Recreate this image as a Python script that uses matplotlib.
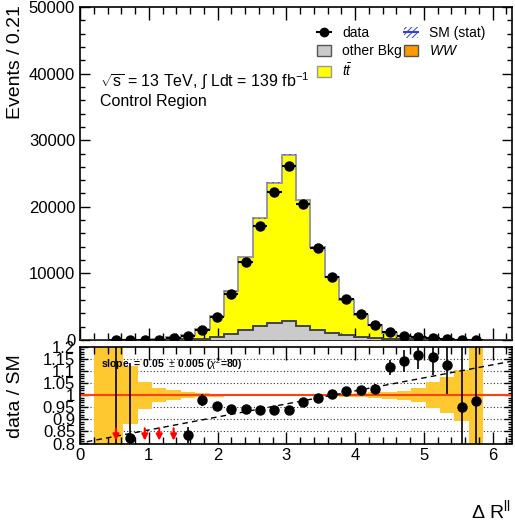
import numpy as np
import matplotlib
matplotlib.use("Agg")
import matplotlib.pyplot as plt
from matplotlib.ticker import MultipleLocator, FixedLocator, FixedFormatter
from matplotlib.patches import Patch
from matplotlib.lines import Line2D

plt.rcParams['font.family'] = ['Liberation Sans', 'DejaVu Sans']
plt.rcParams['mathtext.fontset'] = 'custom'
plt.rcParams['mathtext.rm'] = 'Liberation Sans'
plt.rcParams['mathtext.it'] = 'Liberation Sans:italic'
plt.rcParams['mathtext.bf'] = 'Liberation Sans:bold'
plt.rcParams['hatch.linewidth'] = 0.7

# ---------------- data ----------------
n_bins = 30
x_min, x_max = 0.0, 2 * np.pi

data_counts = [0, 0, 1, 7, 25, 60, 250, 660, 1570, 3470, 6890, 11720, 17100, 22170,
               26090, 20420, 13880, 9460, 6140, 3830, 2260, 1200, 650, 450, 250, 90,
               12, 8, 0, 0]
other_bkg = [0, 0.3, 0.5, 3, 10, 20, 50, 100, 200, 450, 960, 1560, 2120, 2620, 2920,
             2120, 1460, 1110, 710, 450, 350, 200, 130, 80, 50, 20, 4, 3, 0, 0]
ww_bkg = [0, 0, 0, 0, 1, 2, 5, 10, 20, 35, 60, 80, 100, 110, 110, 90, 70, 50, 35, 25,
          15, 10, 6, 4, 2, 1, 0.5, 0.3, 0, 0]
ttbar = [0, 0.5, 0.9, 5.5, 34, 88, 345, 681, 1379, 3141, 6279, 10815, 16030, 20905,
         24785, 18820, 12504, 8234, 5292, 3280, 1836, 866, 433, 302, 164, 59, 8.1, 4.9,
         0, 0]
mc_stat_rel = [0, 0.6, 0.4, 0.12, 0.055, 0.028, 0.02, 0.012, 0.008, 0.006, 0.005,
               0.004, 0.004, 0.003, 0.003, 0.003, 0.004, 0.005, 0.006, 0.008, 0.012,
               0.015, 0.019, 0.03, 0.054, 0.075, 0.105, 0.3, 0, 0]

fit_intercept = 0.802
fit_slope = 0.054
fit_text = r"slope  = 0.05  $\pm$ 0.005 ($\chi^{2}$=80)"

top_yticks = [0, 10000, 20000, 30000, 40000, 50000]
ratio_ticks = [0.8, 0.85, 0.9, 0.95, 1.0, 1.05, 1.1, 1.15, 1.2]
ratio_ticklabels = ["0.8", "0.85", "0.9", "0.95", "1", "1.05", "1.1", "1.15", "1.2"]
ratio_grid = [0.85, 0.9, 0.95, 1.05, 1.1, 1.15]
x_ticks = [0, 1, 2, 3, 4, 5, 6]

# ---------------- derived ----------------
edges = np.linspace(x_min, x_max, n_bins + 1)
centers = 0.5 * (edges[:-1] + edges[1:])
half_w = 0.5 * (edges[1] - edges[0])
d = np.array(data_counts, float)
oth = np.array(other_bkg, float)
ww = np.array(ww_bkg, float)
tt = np.array(ttbar, float)
tot = oth + ww + tt
rel = np.array(mc_stat_rel, float)

# colours
c_tt = '#ffff00'
c_oth = '#cacaca'
c_ww = '#ff9900'
c_band = '#fdc830'
c_red = '#ff4010'
c_hatch = '#3344cc'

fig = plt.figure(figsize=(5.15, 5.27), dpi=100)
W, H = 515.0, 527.0
ax = fig.add_axes([80 / W, 1 - 340 / H, 432 / W, 333 / H])
rax = fig.add_axes([80 / W, 1 - 443.5 / H, 432 / W, 96.5 / H])

# ---------------- top panel ----------------
ax.stairs(tot, edges, baseline=oth + ww, fill=True, color=c_tt, zorder=1)
ax.stairs(tot, edges, color='#9a9a9a', lw=1.4, zorder=2)
ax.stairs(oth + ww, edges, baseline=oth, fill=True, color=c_ww, zorder=2)
ax.stairs(oth, edges, fill=True, color=c_oth, zorder=3)
ax.stairs(oth, edges, color='#444444', lw=1.4, zorder=4)
ax.stairs(tot * (1 + rel), edges, baseline=tot * (1 - rel), fill=True,
          facecolor='none', edgecolor=c_hatch, hatch='//////', lw=0, zorder=5)

m = d > 0
ax.errorbar(centers[m], d[m], xerr=half_w, yerr=np.sqrt(d[m]), fmt='o', color='k',
            ms=6.5, elinewidth=1.5, capsize=0, zorder=10)

ax.set_xlim(x_min, x_max)
ax.set_ylim(0, 50000)
ax.yaxis.set_major_locator(FixedLocator(top_yticks))
ax.yaxis.set_minor_locator(MultipleLocator(2000))
ax.xaxis.set_major_locator(FixedLocator(x_ticks))
ax.xaxis.set_minor_locator(MultipleLocator(0.2))
ax.tick_params(axis='both', which='both', direction='in', top=True, right=True,
               labelsize=12, width=1.0)
ax.tick_params(axis='x', which='major', length=9, labelbottom=False)
ax.tick_params(axis='x', which='minor', length=5)
ax.tick_params(axis='y', which='major', length=7, pad=3.5)
ax.tick_params(axis='y', which='minor', length=3.5)
for s in ax.spines.values():
    s.set_linewidth(1.2)

ax.text(0.046, 0.78, r"$\sqrt{\mathrm{s}}$ = 13 TeV, $\int$ Ldt = 139 fb$^{-1}$",
        transform=ax.transAxes, fontsize=11.5, va='center', ha='left')
ax.text(0.046, 0.715, "Control Region", transform=ax.transAxes, fontsize=11.5,
        va='center', ha='left')

h_data = Line2D([], [], color='k', marker='o', ms=6, lw=1.5)
h_sm = (Patch(facecolor='white', edgecolor=c_hatch, hatch='//////', lw=0),
        Line2D([], [], color=c_hatch, lw=1.5))
h_oth = Patch(facecolor=c_oth, edgecolor='#555555', lw=1.0)
h_tt = Patch(facecolor=c_tt, edgecolor='#999999', lw=1.0)
h_ww = Patch(facecolor=c_ww, edgecolor='#555555', lw=1.0)
leg = ax.legend([h_data, h_oth, h_tt, h_sm, h_ww],
                ['data', 'other Bkg', r'$t\bar{t}$', 'SM (stat)', '$WW$'],
                ncol=2, loc='upper left', bbox_to_anchor=(0.549, 0.942),
                frameon=False, fontsize=10, borderpad=0, borderaxespad=0,
                handlelength=1.0, handleheight=0.8, handletextpad=0.8,
                columnspacing=0.15, labelspacing=0.3)

# ---------------- ratio panel ----------------
for g in ratio_grid:
    rax.axhline(g, color='#333333', ls=(0, (1, 2)), lw=0.8, zorder=0)
band_hi = np.where(tot > 0, 1 + rel, 1)
band_lo = np.where(tot > 0, 1 - rel, 1)
rax.stairs(band_hi, edges, baseline=band_lo, fill=True, color=c_band, zorder=1)
rax.axhline(1.0, color=c_red, lw=1.5, zorder=2)
xf = np.array([0.1, x_max])
rax.plot(xf, fit_intercept + fit_slope * xf, color='k', ls=(0, (4, 3)), lw=1.0,
         zorder=3)

mr = (d > 0) & (tot > 0)
ratio = np.where(mr, d / np.where(tot > 0, tot, 1), np.nan)
rerr = np.where(mr, np.sqrt(np.where(d > 0, d, 1)) / np.where(tot > 0, tot, 1), np.nan)
rax.errorbar(centers[mr], ratio[mr], yerr=rerr[mr], fmt='o', color='k', ms=6.5,
             elinewidth=1.2, capsize=0, zorder=5)
for c, r in zip(centers[mr], ratio[mr]):
    if r < 0.8:
        rax.annotate('', xy=(c, 0.812), xytext=(c, 0.863),
                     arrowprops=dict(arrowstyle='-|>', color='red', lw=1.5,
                                     mutation_scale=9, shrinkA=0, shrinkB=0),
                     zorder=6)

rax.text(0.305, 1.128, fit_text, fontsize=7.5, fontweight='bold', va='center',
         ha='left', zorder=7)

rax.set_xlim(x_min, x_max)
rax.set_ylim(0.8, 1.2)
rax.yaxis.set_major_locator(FixedLocator(ratio_ticks))
rax.yaxis.set_major_formatter(FixedFormatter(ratio_ticklabels))
rax.yaxis.set_minor_locator(MultipleLocator(0.01))
rax.xaxis.set_major_locator(FixedLocator(x_ticks))
rax.xaxis.set_minor_locator(MultipleLocator(0.2))
rax.tick_params(axis='both', which='both', direction='in', top=True, right=True,
                labelsize=12, width=1.0)
rax.tick_params(axis='x', which='major', length=9, pad=3)
rax.tick_params(axis='x', which='minor', length=5)
rax.tick_params(axis='y', which='major', length=6, pad=3.5)
rax.tick_params(axis='y', which='minor', length=3)
for s in rax.spines.values():
    s.set_linewidth(1.2)

fig.text(16 / W, 1 - 5 / H, 'Events / 0.21', rotation=90, ha='center', va='top',
         fontsize=14)
fig.text(16 / W, 1 - 396 / H, 'data / SM', rotation=90, ha='center', va='center',
         fontsize=14)
fig.text(511 / W, 1 - 510 / H, r'$\Delta$ R$^{\mathrm{ll}}$', ha='right',
         va='center', fontsize=14)

fig.savefig('out.png', dpi=100)
